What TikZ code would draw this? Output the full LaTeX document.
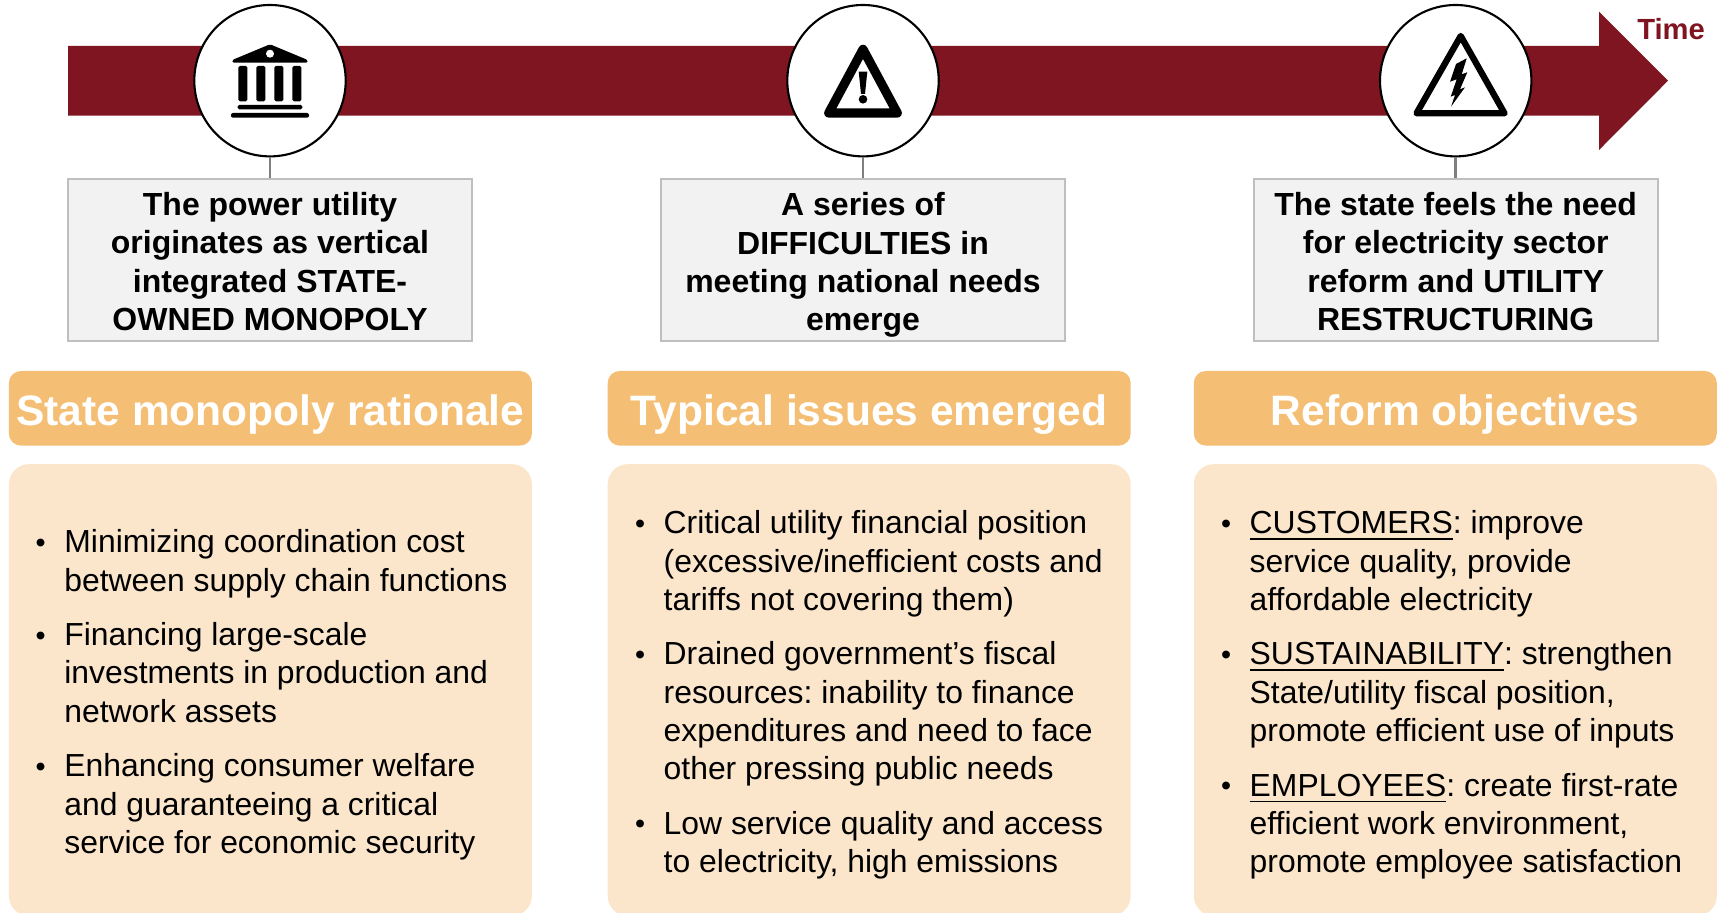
\documentclass[tikz,border=0pt]{standalone}
\usepackage{graphicx}
\usepackage{fontspec}
\setmainfont{Liberation Sans}
\usepackage{tikz}
\usetikzlibrary{shapes,positioning,calc}
\definecolor{timered}{RGB}{126,21,32}
\definecolor{headorange}{RGB}{244,191,116}
\definecolor{bodyorange}{RGB}{251,230,204}
\definecolor{boxgray}{RGB}{242,242,242}
\definecolor{boxline}{RGB}{191,191,191}
\definecolor{linkgray}{RGB}{127,127,127}
\newcommand{\bul}{\leavevmode\llap{\raisebox{0.2pt}{\scalebox{0.9}{\textbullet}}\hspace{5.3pt}}}

\begin{document}
\frenchspacing
\begin{tikzpicture}[
    stage/.style={circle, draw=black, fill=white, line width=0.6pt, minimum size=1.514cm, inner sep=0pt},
    event/.style={rectangle, draw=boxline, fill=boxgray, line width=0.6pt, minimum width=4.04cm,
                  minimum height=1.62cm, inner sep=0pt, align=center,
                  font=\fontsize{9.1}{10.85}\selectfont\bfseries},
    heading/.style={rectangle, rounded corners=0.12cm, fill=headorange, text=white, minimum width=5.23cm,
                    minimum height=0.746cm, inner sep=0pt, text height=9.8pt, text depth=0pt,
                    font=\fontsize{12.1}{14}\selectfont\bfseries},
    panel/.style={rectangle, rounded corners=0.2cm, fill=bodyorange, minimum width=5.23cm,
                  minimum height=4.517cm, inner sep=0pt},
    points/.style={anchor=north west, inner sep=0pt, align=left, font=\fontsize{9.07}{10.87}\selectfont},
    link/.style={draw=linkgray, line width=0.7pt}
]
    \useasboundingbox (0,0) rectangle (17.21,-9.13);

    % Time arrow
    \fill[timered] (0.68,-0.46) -- (15.99,-0.46) -- (15.99,-0.117) -- (16.68,-0.807)
        -- (15.99,-1.50) -- (15.99,-1.157) -- (0.68,-1.157) -- cycle;
    \node[anchor=base east, inner sep=0pt, text=timered, font=\fontsize{8.3}{10}\selectfont\bfseries] (time) at (17.055,-0.40) {Time};

    % Stages
    \node[stage] (stageA) at (2.70,-0.807) {};
    \node[stage] (stageB) at (8.63,-0.807) {};
    \node[stage] (stageC) at (14.557,-0.807) {};

    \node[event] (eventA) at (2.70,-2.60) {\rule{0pt}{7.5pt}The power utility\\originates as vertical\\integrated STATE-\\OWNED MONOPOLY};
    \node[event] (eventB) at (8.63,-2.60) {\rule{0pt}{7.5pt}A series of\\DIFFICULTIES in\\meeting national needs\\\smash{emerge}};
    \node[event] (eventC) at (14.557,-2.60) {\rule{0pt}{7.5pt}The state feels the need\\for electricity sector\\reform and UTILITY\\RESTRUCTURING};

    \draw[link] (stageA) -- (eventA);
    \draw[link] (stageB) -- (eventB);
    \draw[link] (stageC) -- (eventC);

    % Temple icon
    \fill[black, rounded corners=0.015cm] (2.70,-0.443) -- (3.077,-0.60) -- (3.077,-0.627) -- (2.323,-0.627) -- (2.323,-0.60) -- cycle;
    \fill[white] (2.70,-0.537) circle (0.04);
    \fill[black, rounded corners=0.015cm] (2.383,-0.66) rectangle (2.473,-1.013);
    \fill[black, rounded corners=0.015cm] (2.563,-0.66) rectangle (2.653,-1.013);
    \fill[black, rounded corners=0.015cm] (2.743,-0.66) rectangle (2.833,-1.013);
    \fill[black, rounded corners=0.015cm] (2.923,-0.66) rectangle (3.013,-1.013);
    \fill[black, rounded corners=0.015cm] (2.377,-1.05) rectangle (3.023,-1.093);
    \fill[black, rounded corners=0.02cm] (2.31,-1.13) rectangle (3.09,-1.177);

    % Warning icon
    \draw[black, line width=2.6pt, line join=round] (8.63,-0.493) -- (8.973,-1.13) -- (8.287,-1.13) -- cycle;
    \fill[black] (8.587,-0.717) -- (8.673,-0.717) -- (8.65,-0.94) -- (8.61,-0.94) -- cycle;
    \fill[black] (8.63,-0.993) circle (0.043);

    % High voltage icon
    \draw[black, line width=1.8pt, line join=round] (14.607,-0.36) -- (15.045,-1.133) -- (14.165,-1.133) -- cycle;
    \fill[black] (14.667,-0.583) -- (14.56,-0.64) -- (14.50,-0.817) -- (14.567,-0.793) -- (14.507,-0.967)
        -- (14.55,-0.95) -- (14.51,-1.067) -- (14.65,-0.873) -- (14.60,-0.893) -- (14.673,-0.723)
        -- (14.617,-0.743) -- cycle;

    % State monopoly rationale
    \node[heading] (headA) at (2.704,-4.083) {State monopoly rationale};
    \node[panel] (panelA) at (2.704,-6.90) {};
    \node[points] (pointsA) at (0.637,-5.29) {\bul Minimizing coordination cost\\between supply chain functions\\[4.7pt]
        \bul Financing large-scale\\investments in production and\\network assets\\[4.7pt]
        \bul Enhancing consumer welfare\\and guaranteeing a critical\\service for economic security};

    % Typical issues emerged
    \node[heading] (headB) at (8.692,-4.083) {Typical issues emerged};
    \node[panel] (panelB) at (8.692,-6.90) {};
    \node[points] (pointsB) at (6.63,-5.10) {\bul Critical utility financial position\\(excessive/inefficient costs and\\tariffs not covering them)\\[4.7pt]
        \bul Drained government’s fiscal\\resources: inability to finance\\expenditures and need to face\\other pressing public needs\\[4.7pt]
        \bul Low service quality and access\\to electricity, high emissions};

    % Reform objectives
    \node[heading] (headC) at (14.553,-4.083) {Reform objectives};
    \node[panel] (panelC) at (14.553,-6.90) {};
    \node[points] (pointsC) at (12.49,-5.10) {\bul \underline{CUSTOMERS}: improve\\service quality, provide\\affordable electricity\\[4.7pt]
        \bul \underline{SUSTAINABILITY}: strengthen\\State/utility fiscal position,\\promote efficient use of inputs\\[4.7pt]
        \bul \underline{EMPLOYEES}: create first-rate\\efficient work environment,\\promote employee satisfaction};
\end{tikzpicture}
\end{document}
